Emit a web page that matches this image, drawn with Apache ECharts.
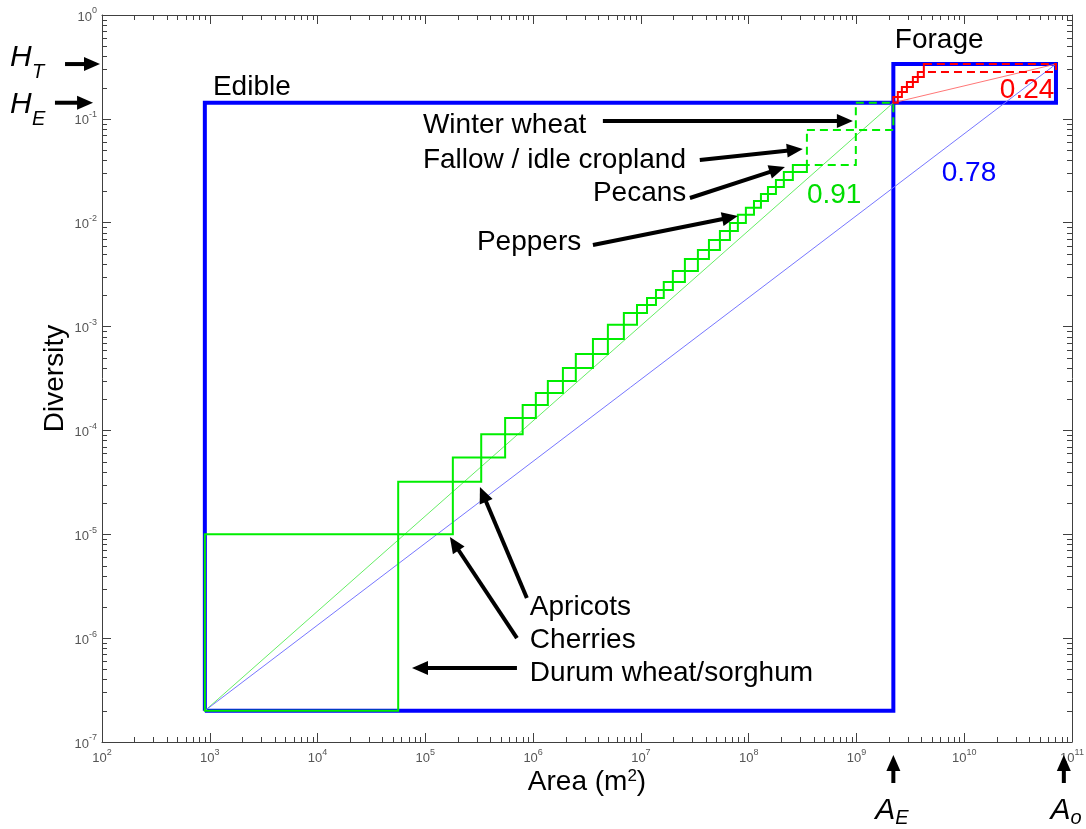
<!DOCTYPE html>
<html lang="en">
<head>
<meta charset="UTF-8">
<title>Diversity vs area</title>
<script src="https://cdn.jsdelivr.net/npm/echarts@6/dist/echarts.min.js"></script>
<style>
  html, body { margin: 0; padding: 0; background: #fff; }
  #chart { width: 1086px; height: 829px; }
</style>
</head>
<body>
<div id="chart"></div>
<script>
// axis ranges
const xMin = 1e2, xMax = 1e11;
const yMin = 1e-7, yMax = 1;
const xDecades = [2, 3, 4, 5, 6, 7, 8, 9, 10];
const yDecades = [-7, -6, -5, -4, -3, -2, -1];
const minorMult = [2, 3, 4, 5, 6, 7, 8, 9];

// box corners
const A0 = 900, H0 = 2.0e-7;      // smallest crop
const A_E = 2.2e9, H_E = 0.143;   // all edible crops
const A_O = 7.1e10, H_T = 0.337;  // edible + forage

// cumulative area / diversity, edible crops (green)
const greenArea = [900, 5.6e4, 1.8e5, 3.3e5, 5.5e5, 8.0e5, 1.06e6, 1.37e6, 1.89e6, 2.49e6,
  3.59e6, 4.94e6, 6.95e6, 9.2e6, 1.14e7, 1.38e7, 1.63e7, 1.98e7, 2.56e7, 3.38e7,
  4.28e7, 5.41e7, 6.7e7, 7.94e7, 9.42e7, 1.12e8, 1.3e8, 1.51e8, 1.79e8, 2.12e8,
  2.57e8, 3.47e8, 9.87e8, 2.2e9];
const greenDiv = [2.0e-7, 1.0e-5, 3.2e-5, 5.5e-5, 9.2e-5, 1.32e-4, 1.76e-4, 2.29e-4, 2.99e-4, 3.99e-4,
  5.44e-4, 7.59e-4, 1.04e-3, 1.35e-3, 1.61e-3, 1.88e-3, 2.25e-3, 2.69e-3, 3.43e-3, 4.48e-3,
  5.46e-3, 6.82e-3, 8.32e-3, 9.93e-3, 1.19e-2, 1.39e-2, 1.62e-2, 1.89e-2, 2.21e-2, 2.58e-2,
  3.08e-2, 3.6e-2, 7.82e-2, 0.143];
const greenDashFrom = 32;   // fallow, winter wheat

// cumulative area / diversity, forage (red)
const redArea = [2.2e9, 2.42e9, 2.64e9, 2.94e9, 3.34e9, 3.71e9, 4.22e9, 7.1e10];
const redDiv = [0.143, 0.162, 0.181, 0.203, 0.226, 0.253, 0.283, 0.337];
const redDashFrom = 7;

// text notes
const noteText = ['Edible', 'Forage', 'Winter wheat', 'Fallow / idle cropland', 'Pecans', 'Peppers',
  'Apricots', 'Cherries', 'Durum wheat/sorghum', '0.91', '0.78', '0.24'];
const noteX = [1.07e3, 2.27e9, 9.5e4, 9.5e4, 3.59e6, 3.01e5, 9.33e5, 9.33e5, 9.33e5, 3.47e8, 6.19e9, 2.14e10];
const noteY = [0.203, 0.574, 0.0873, 0.0402, 0.0193, 6.52e-3, 2.0e-6, 9.6e-7, 4.62e-7, 0.0185, 0.0301, 0.19];
const noteColor = ['#000', '#000', '#000', '#000', '#000', '#000', '#000', '#000', '#000', '#00dd00', '#0000ff', '#ff0000'];

// arrows: start -> tip
const arrowFrom = [[4.44e6, 0.0953], [3.52e7, 0.0402], [2.85e7, 0.0173], [3.59e6, 6.1e-3],
  [8.75e5, 2.44e-6], [7.08e5, 1.0e-6], [7.08e5, 5.16e-7],
  [45.4, H_T], [36.6, H_E], [A_E, 4.03e-8], [8.4e10, 4.03e-8]];
const arrowTo = [[9.27e8, 0.0953], [3.18e8, 0.0513], [2.17e8, 0.0344], [7.94e7, 0.0116],
  [3.21e5, 2.85e-5], [1.69e5, 9.4e-6], [7.52e4, 5.16e-7],
  [95.8, H_T], [82.6, H_E], [A_E, 7.5e-8], [8.4e10, 7.5e-8]];

// H_T, H_E, A_E, A_o markers
const markLetter = ['H', 'H', 'A', 'A'];
const markSub = ['T', 'E', 'E', 'o'];
const markX = [14, 14, A_E, 9.3e10];
const markY = [0.385, 0.136, 2.17e-8, 2.17e-8];

const FONT = '"Liberation Sans", Arial, Helvetica, sans-serif';
const AXIS = '#404040';
const TICK_TXT = '#555555';

function boxes(area, div, dashFrom) {
  const out = [];
  for (let k = 1; k < area.length; k++) {
    out.push([area[k - 1], div[k - 1], area[k], div[k], k >= dashFrom ? 1 : 0]);
  }
  return out;
}

function rectItem(color) {
  return function (params, api) {
    const p0 = api.coord([api.value(0), api.value(1)]);
    const p1 = api.coord([api.value(2), api.value(3)]);
    return {
      type: 'rect',
      shape: {
        x: Math.min(p0[0], p1[0]), y: Math.min(p0[1], p1[1]),
        width: Math.abs(p1[0] - p0[0]), height: Math.abs(p1[1] - p0[1])
      },
      style: { fill: 'none', stroke: color, lineWidth: 2, lineDash: api.value(4) ? [8, 5] : 'solid' }
    };
  };
}

function arrowItem(params, api) {
  const p0 = api.coord([api.value(0), api.value(1)]);
  const p1 = api.coord([api.value(2), api.value(3)]);
  const dx = p1[0] - p0[0], dy = p1[1] - p0[1];
  const len = Math.sqrt(dx * dx + dy * dy);
  const ux = dx / len, uy = dy / len;
  const headLen = 16, headHalf = 7;
  const bx = p1[0] - ux * headLen, by = p1[1] - uy * headLen;
  return {
    type: 'group',
    children: [
      { type: 'line', shape: { x1: p0[0], y1: p0[1], x2: bx + ux * 2, y2: by + uy * 2 },
        style: { stroke: '#000', lineWidth: 4 } },
      { type: 'polygon', shape: { points: [[p1[0], p1[1]], [bx - uy * headHalf, by + ux * headHalf], [bx + uy * headHalf, by - ux * headHalf]] },
        style: { fill: '#000' } }
    ]
  };
}

function noteItem(params, api) {
  const i = params.dataIndex;
  const p = api.coord([api.value(0), api.value(1)]);
  return {
    type: 'text', x: p[0], y: p[1],
    style: { text: noteText[i], fill: noteColor[i], fontFamily: FONT, fontSize: 28, align: 'left', verticalAlign: 'middle' }
  };
}

function markItem(params, api) {
  const i = params.dataIndex;
  const p = api.coord([api.value(0), api.value(1)]);
  const isA = markLetter[i] === 'A';
  return {
    type: 'group',
    children: [
      { type: 'text', x: isA ? p[0] - 8 : p[0], y: p[1],
        style: { text: markLetter[i], fill: '#000', fontFamily: FONT, fontStyle: 'italic', fontSize: 30,
          align: isA ? 'center' : 'left', verticalAlign: 'middle' } },
      { type: 'text', x: isA ? p[0] + 2 : p[0] + 22, y: p[1] + (isA ? 8 : 14),
        style: { text: markSub[i], fill: '#000', fontFamily: FONT, fontStyle: 'italic', fontSize: 20,
          align: 'left', verticalAlign: 'middle' } }
    ]
  };
}

function minorXItem(params, api) {
  const cs = params.coordSys;
  const x = Math.round(api.coord([api.value(0), 1e-3])[0]) + 0.5;
  const yb = cs.y + cs.height, yt = cs.y;
  return {
    type: 'group',
    children: [
      { type: 'line', shape: { x1: x, y1: yb, x2: x, y2: yb - 5 }, style: { stroke: AXIS, lineWidth: 1 } },
      { type: 'line', shape: { x1: x, y1: yt, x2: x, y2: yt + 5 }, style: { stroke: AXIS, lineWidth: 1 } }
    ]
  };
}

function minorYItem(params, api) {
  const cs = params.coordSys;
  const y = Math.round(api.coord([1e5, api.value(1)])[1]) + 0.5;
  const xl = cs.x, xr = cs.x + cs.width;
  return {
    type: 'group',
    children: [
      { type: 'line', shape: { x1: xl, y1: y, x2: xl + 5, y2: y }, style: { stroke: AXIS, lineWidth: 1 } },
      { type: 'line', shape: { x1: xr, y1: y, x2: xr - 5, y2: y }, style: { stroke: AXIS, lineWidth: 1 } }
    ]
  };
}

const minorX = [];
xDecades.forEach(d => minorMult.forEach(m => minorX.push([m * Math.pow(10, d), 1e-3])));
const minorY = [];
yDecades.forEach(d => minorMult.forEach(m => minorY.push([1e5, m * Math.pow(10, d)])));

function expLabel(v) {
  return '{b|10}{s|' + Math.round(Math.log10(v)) + '}';
}
const labelRich = {
  b: { fontFamily: FONT, fontSize: 13, color: TICK_TXT, lineHeight: 17, verticalAlign: 'bottom' },
  s: { fontFamily: FONT, fontSize: 9, color: TICK_TXT, lineHeight: 10, verticalAlign: 'top' }
};

function logAxis(extra) {
  return Object.assign({
    type: 'log', logBase: 10,
    splitLine: { show: false },
    axisLine: { show: true, onZero: false, lineStyle: { color: AXIS, width: 1 } },
    axisTick: { show: true, inside: true, length: 9, lineStyle: { color: AXIS } },
    nameMoveOverlap: false
  }, extra);
}

const chart = echarts.init(document.getElementById('chart'));
chart.setOption({
  animation: false,
  backgroundColor: '#fff',
  grid: { left: 102, right: 14, top: 15, bottom: 87, containLabel: false, outerBoundsMode: 'none' },
  xAxis: [
    logAxis({
      min: xMin, max: xMax, position: 'bottom',
      axisLabel: { formatter: expLabel, rich: labelRich, margin: 6 },
      name: 'Area (m{sup|2})', nameLocation: 'middle', nameGap: 26,
      nameTextStyle: { fontFamily: FONT, fontSize: 28, color: '#000',
        rich: { sup: { fontFamily: FONT, fontSize: 17, color: '#000', verticalAlign: 'top', lineHeight: 16 } } }
    }),
    logAxis({ min: xMin, max: xMax, position: 'top', axisLabel: { show: false } })
  ],
  yAxis: [
    logAxis({
      min: yMin, max: yMax, position: 'left',
      axisLabel: { formatter: expLabel, rich: labelRich, margin: 5 },
      name: 'Diversity', nameLocation: 'middle', nameGap: 33, nameRotate: 90,
      nameTextStyle: { fontFamily: FONT, fontSize: 28, color: '#000' }
    }),
    logAxis({ min: yMin, max: yMax, position: 'right', axisLabel: { show: false } })
  ],
  series: [
    { type: 'line', name: 'Edible', symbol: 'none', silent: true, z: 2,
      data: [[A0, H0], [A_E, H0], [A_E, H_E], [A0, H_E], [A0, H0]],
      lineStyle: { color: '#0000ff', width: 4, join: 'miter' } },
    { type: 'line', name: 'Forage', symbol: 'none', silent: true, z: 2,
      data: [[A_E, H_E], [A_O, H_E], [A_O, H_T], [A_E, H_T], [A_E, H_E]],
      lineStyle: { color: '#0000ff', width: 4, join: 'miter' } },
    { type: 'line', symbol: 'none', silent: true, z: 3,
      data: [[A0, H0], [A_E, H_E]], lineStyle: { color: '#66ee66', width: 1 } },
    { type: 'line', symbol: 'none', silent: true, z: 3,
      data: [[A0, H0], [A_O, H_T]], lineStyle: { color: '#7777ff', width: 1 } },
    { type: 'line', symbol: 'none', silent: true, z: 3,
      data: [[A_E, H_E], [A_O, H_T]], lineStyle: { color: '#ff7777', width: 1 } },
    { type: 'custom', silent: true, z: 4, renderItem: rectItem('#00ee00'),
      data: boxes(greenArea, greenDiv, greenDashFrom) },
    { type: 'custom', silent: true, z: 4, renderItem: rectItem('#ff0000'),
      data: boxes(redArea, redDiv, redDashFrom) },
    { type: 'custom', silent: true, z: 5, renderItem: minorXItem, data: minorX },
    { type: 'custom', silent: true, z: 5, renderItem: minorYItem, data: minorY },
    { type: 'custom', silent: true, z: 6, renderItem: arrowItem,
      data: arrowFrom.map((f, i) => [f[0], f[1], arrowTo[i][0], arrowTo[i][1]]) },
    { type: 'custom', silent: true, z: 6, renderItem: noteItem,
      data: noteX.map((x, i) => [x, noteY[i]]) },
    { type: 'custom', silent: true, z: 6, renderItem: markItem,
      data: markX.map((x, i) => [x, markY[i]]) }
  ]
});
</script>
</body>
</html>
